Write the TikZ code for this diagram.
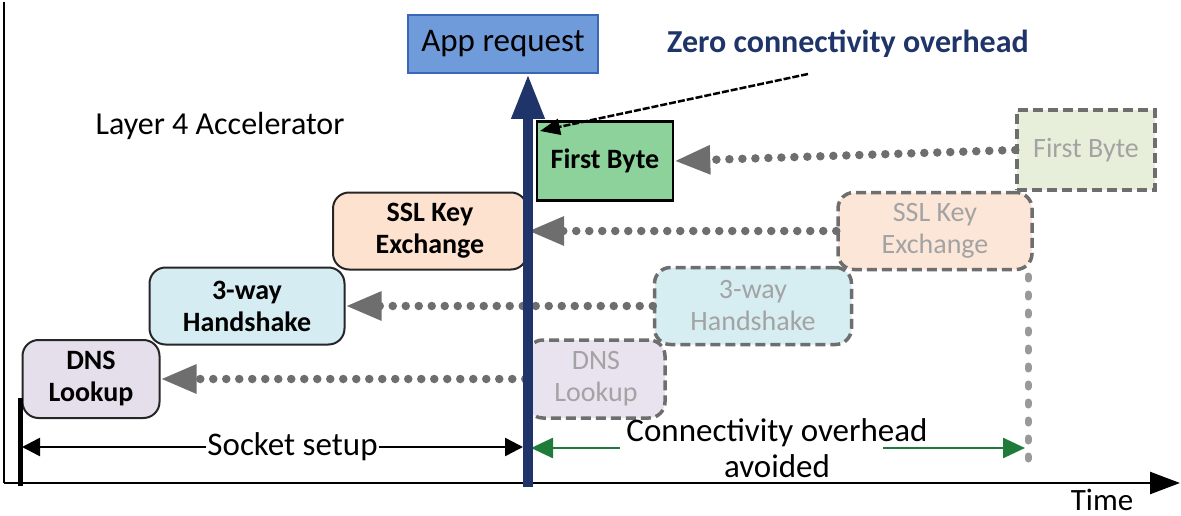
\documentclass[tikz,border=0pt]{standalone}
\usepackage{fontspec}
\setmainfont{Carlito}
\usetikzlibrary{arrows.meta,calc}
\definecolor{navy}{HTML}{1F3468}
\definecolor{appfill}{HTML}{6F9BDA}
\definecolor{appline}{HTML}{3B66B5}
\definecolor{fbfill}{HTML}{8DD19B}
\definecolor{sslfill}{HTML}{FDE3CF}
\definecolor{hsfill}{HTML}{D4ECF2}
\definecolor{dnsfill}{HTML}{E5DFEC}
\definecolor{fbfade}{HTML}{E7EFDA}
\definecolor{sslfade}{HTML}{FCE6D8}
\definecolor{hsfade}{HTML}{D6EDF2}
\definecolor{dnsfade}{HTML}{E8E3EE}
\definecolor{dotgray}{HTML}{6E6E6E}
\definecolor{fadetext}{HTML}{A3A3A3}
\definecolor{ovgreen}{HTML}{1E7B3A}
\begin{document}
\begin{tikzpicture}[x=1pt,y=-1pt,
  lbl/.style={font=\fontsize{28}{32}\selectfont\bfseries, align=center, inner sep=0pt},
  solidbox/.style={lbl, draw=black!85, line width=2pt, rounded corners=16pt},
  sqbox/.style={lbl, draw=black, line width=2.5pt},
  fadebox/.style={draw=dotgray, line width=3.5pt, dash pattern=on 10pt off 5pt,
     rounded corners=16pt, text=fadetext, font=\fontsize{28}{32}\selectfont,
     align=center, inner sep=0pt},
  dotarrow/.style={draw=dotgray, line width=8.5pt, line cap=round,
     dash pattern=on 0pt off 13pt, -{Triangle[length=36pt,width=27pt]}},
  bigtext/.style={font=\fontsize{32}{36}\selectfont}
]
\useasboundingbox (0,0) rectangle (1181,516);

% axes
\coordinate (top) at (4,2);
\coordinate (o) at (4,483);
\coordinate (xend) at (1180,483);
\draw[line width=2.5pt] (top) -- (o);
\draw[line width=2.5pt, -{Triangle[length=30pt,width=22pt]}] (o) -- (xend);
\node[font=\fontsize{31}{34}\selectfont, anchor=base, inner sep=0pt] (time) at (1102,510) {Time};

% texts
\node[bigtext] (layer) at (220,126) {Layer 4 Accelerator};
\node[font=\fontsize{32}{36}\selectfont\bfseries, text=navy] (zero) at (848,44) {Zero connectivity overhead};
\node[lbl, font=\fontsize{33}{36}\selectfont, draw=appline, line width=2pt, fill=appfill,
      minimum width=190pt, minimum height=58pt] (app) at (503,44) {App request};

% real boxes
\node[sqbox, fill=fbfill, minimum width=136pt, minimum height=79pt] (fb) at (605,161) {First Byte};
\node[solidbox, fill=sslfill, minimum width=194pt, minimum height=77pt] (ssl) at (430,231) {SSL Key\\Exchange};
\node[solidbox, fill=hsfill, minimum width=195pt, minimum height=77pt] (hs) at (247,306) {3-way\\Handshake};
\node[solidbox, fill=dnsfill, minimum width=137pt, minimum height=78pt] (dns) at (91,379) {DNS\\Lookup};

% faded boxes
\node[fadebox, rounded corners=0pt, fill=fbfade, minimum width=138pt, minimum height=80pt] (fbf) at (1086,150) {First Byte};
\node[fadebox, fill=sslfade, minimum width=194pt, minimum height=77pt] (sslf) at (935,231) {SSL Key\\Exchange};
\node[fadebox, fill=hsfade, minimum width=197pt, minimum height=77pt] (hsf) at (753,306) {3-way\\Handshake};
\node[fadebox, fill=dnsfade, minimum width=138pt, minimum height=78pt] (dnsf) at (596,379) {DNS\\Lookup};

% dotted arrows
\draw[dotarrow] (fbf.west) -- (fb.east);
\draw[dotarrow] (sslf.west) -- (ssl.east);
\draw[dotarrow] (hsf.west) -- (hs.east);
\draw[dotarrow] (dnsf.west) -- (dns.east);

% vertical dotted line
\coordinate (v0) at (1028,276);
\coordinate (v1) at (1028,468);
\draw[draw=dotgray!70, line width=7pt, line cap=round, dash pattern=on 3pt off 15pt] (v0) -- (v1);

% socket setup
\coordinate (tick0) at (20,398);
\coordinate (tick1) at (20,486);
\draw[line width=5pt] (tick0) -- (tick1);
\coordinate (s0) at (22,447);
\coordinate (s1) at (523,447);
\draw[line width=2.5pt, {Triangle[length=18pt,width=18pt]}-{Triangle[length=18pt,width=18pt]}]
  (s0) -- node[pos=0.54, fill=white, inner xsep=1pt, inner ysep=0pt, font=\fontsize{33}{36}\selectfont] (sock) {Socket setup} (s1);

% connectivity overhead avoided
\coordinate (g0) at (531,448);
\coordinate (g1) at (620,448);
\coordinate (g2) at (883,448);
\coordinate (g3) at (1025,448);
\draw[ovgreen, line width=2.5pt, {Triangle[length=22pt,width=20pt]}-] (g0) -- (g1);
\draw[ovgreen, line width=2.5pt, -{Triangle[length=22pt,width=20pt]}] (g2) -- (g3);
\node[align=center, font=\fontsize{33}{36}\selectfont, inner sep=0pt] (conn) at (777,448) {Connectivity overhead\\avoided};

% blue vertical arrow
\coordinate (bbot) at (528,487);
\draw[navy, line width=10pt, -{Triangle[length=45pt,width=31pt]}] (bbot) -- (bbot |- app.south);

% zero overhead pointer
\coordinate (z0) at (808,74);
\coordinate (zt) at (540,131);
\draw[line width=2.5pt, dash pattern=on 7pt off 2pt, -{Triangle[length=20pt,width=16pt]}] (z0) -- (zt);
\end{tikzpicture}
\end{document}
